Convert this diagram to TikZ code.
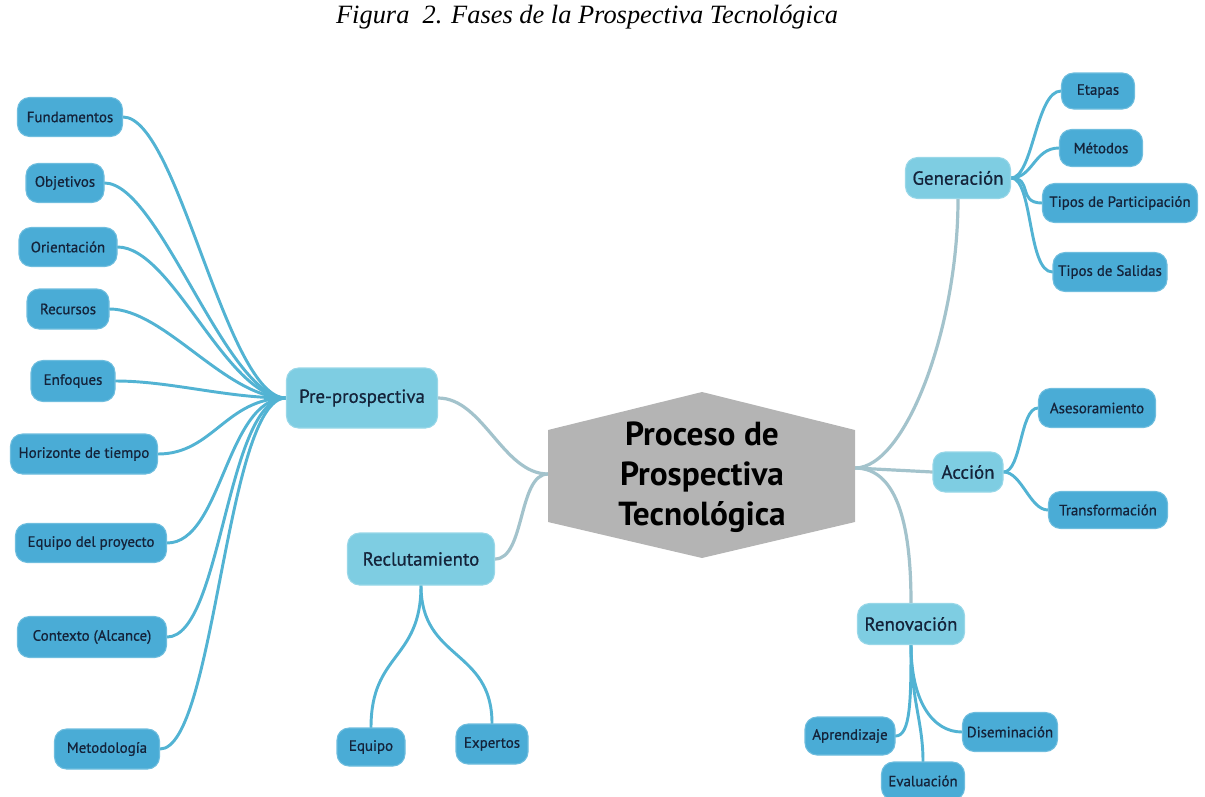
\documentclass[tikz,border=0pt]{standalone}
\usepackage{fontspec}
\setmainfont{PT Sans}
\newfontfamily\nodefont{PT Sans}[FakeBold=0.7]
\newfontfamily\titlefont{Liberation Serif}
\definecolor{leafblue}{HTML}{4AACD6}
\definecolor{midblue}{HTML}{7ECDE2}
\definecolor{leafline}{HTML}{52B3D3}
\definecolor{coreline}{HTML}{A3C3CC}
\definecolor{hexgray}{HTML}{B4B4B4}
\definecolor{textdark}{HTML}{14233A}
\pgfdeclarelayer{bg}
\pgfsetlayers{bg,main}
\newcommand\mnode[6]{\node[#1,minimum width=#5*0.75pt,minimum height=#6*0.75pt] (#2) at (#3) {#4};}
\begin{document}
\begin{tikzpicture}[x=0.75pt,y=-0.75pt,
  leaf/.style={fill=leafblue, draw=leafblue!80!white, line width=0.8pt, rounded corners=9pt, text=textdark, font=\nodefont\fontsize{11.2}{13}\selectfont, inner sep=0pt},
  mid/.style={fill=midblue, draw=midblue!80!white, line width=0.8pt, rounded corners=9pt, text=textdark, font=\nodefont\fontsize{14.2}{16}\selectfont, inner sep=0pt},
  leafconn/.style={draw=leafline, line width=2.2pt, line cap=round},
  coreconn/.style={draw=coreline, line width=2.4pt, line cap=round},
  coretext/.style={align=center, text=black, font=\bfseries\fontsize{25}{30}\selectfont},
  titletext/.style={font=\titlefont\itshape\fontsize{19.8}{23}\selectfont, anchor=base}
]
\useasboundingbox (0,0) rectangle (1205,796);
\clip (0,0) rectangle (1205,796);

\node[titletext] (title) at (587,23) {Figura\ \ 2. Fases de la Prospectiva Tecnológica};

% central hexagon
\fill[hexgray] (702,392) -- (855,430) -- (855,522) -- (702,558) -- (548,522) -- (548,430) -- cycle;
\node[coretext] (core) at (702,477) {Proceso de\\Prospectiva\\Tecnológica};
\coordinate (hexW) at (548,474);
\coordinate (hexE) at (855,468);

% left leaves
\mnode{leaf}{fund}{70,117}{Fundamentos}{105}{39}
\mnode{leaf}{obj}{65,183}{Objetivos}{78}{39}
\mnode{leaf}{ori}{68,247}{Orientación}{98}{39}
\mnode{leaf}{rec}{68,309}{Recursos}{82}{40}
\mnode{leaf}{enf}{73,381}{Enfoques}{84}{41}
\mnode{leaf}{hor}{84,454}{Horizonte de tiempo}{147}{40}
\mnode{leaf}{eqp}{91,543}{Equipo del proyecto}{151}{39}
\mnode{leaf}{ctx}{92,637}{Contexto (Alcance)}{149}{41}
\mnode{leaf}{met}{107,749}{Metodología}{105}{40}

% main branches
\mnode{mid}{pre}{362,398}{Pre-prospectiva}{151}{60}
\mnode{mid}{recl}{421,559}{Reclutamiento}{147}{52}
\mnode{mid}{gen}{958,178}{Generación}{105}{41}
\mnode{mid}{acc}{968,472}{Acción}{70}{40}
\mnode{mid}{ren}{911,624}{Renovación}{107}{41}

% right leaves
\mnode{leaf}{eta}{1098,91}{Etapas}{73}{36}
\mnode{leaf}{mtd}{1101,148}{Métodos}{83}{37}
\mnode{leaf}{tdp}{1120,203}{Tipos de Participación}{155}{39}
\mnode{leaf}{tds}{1110,272}{Tipos de Salidas}{114}{39}
\mnode{leaf}{ase}{1097,408}{Asesoramiento}{117}{39}
\mnode{leaf}{tra}{1108,510}{Transformación}{119}{37}
\mnode{leaf}{apr}{850,736}{Aprendizaje}{90}{38}
\mnode{leaf}{eva}{923,781}{Evaluación}{83}{38}
\mnode{leaf}{dis}{1010,732}{Diseminación}{95}{39}
\mnode{leaf}{equ}{371,747}{Equipo}{68}{38}
\mnode{leaf}{exp}{492,744}{Expertos}{72}{40}

\begin{pgfonlayer}{bg}
\foreach \n in {fund,obj,ori,rec,enf,hor,eqp,ctx,met}
  \draw[leafconn] (\n.east) .. controls +(55,0) and +(-60,0) .. (pre.west);
\draw[coreconn] (pre.east) .. controls +(45,0) and +(-45,0) .. (hexW);
\draw[coreconn] (recl.east) .. controls +(30,0) and +(-30,0) .. (hexW);
\draw[coreconn] (hexE) .. controls +(50,0) and +(0,130) .. (gen.south);
\draw[coreconn] (hexE) -- (acc.west);
\draw[coreconn] (hexE) .. controls +(45,0) and +(0,-70) .. (ren.north);
\foreach \n in {eta,mtd,tdp,tds}
  \draw[leafconn] (gen.east) .. controls +(22,0) and +(-25,0) .. (\n.west);
\foreach \n in {ase,tra}
  \draw[leafconn] (acc.east) .. controls +(18,0) and +(-18,0) .. (\n.west);
\draw[leafconn] (ren.south) .. controls +(0,55) and +(15,0) .. (apr.east);
\draw[leafconn] (ren.south) .. controls +(0,55) and +(0,-40) .. (eva.north);
\draw[leafconn] (ren.south) .. controls +(0,55) and +(-30,0) .. (dis.west);
\draw[leafconn] (recl.south) .. controls +(0,75) and +(0,-75) .. (equ.north);
\draw[leafconn] (recl.south) .. controls +(0,75) and +(0,-75) .. (exp.north);
\end{pgfonlayer}
\end{tikzpicture}
\end{document}
